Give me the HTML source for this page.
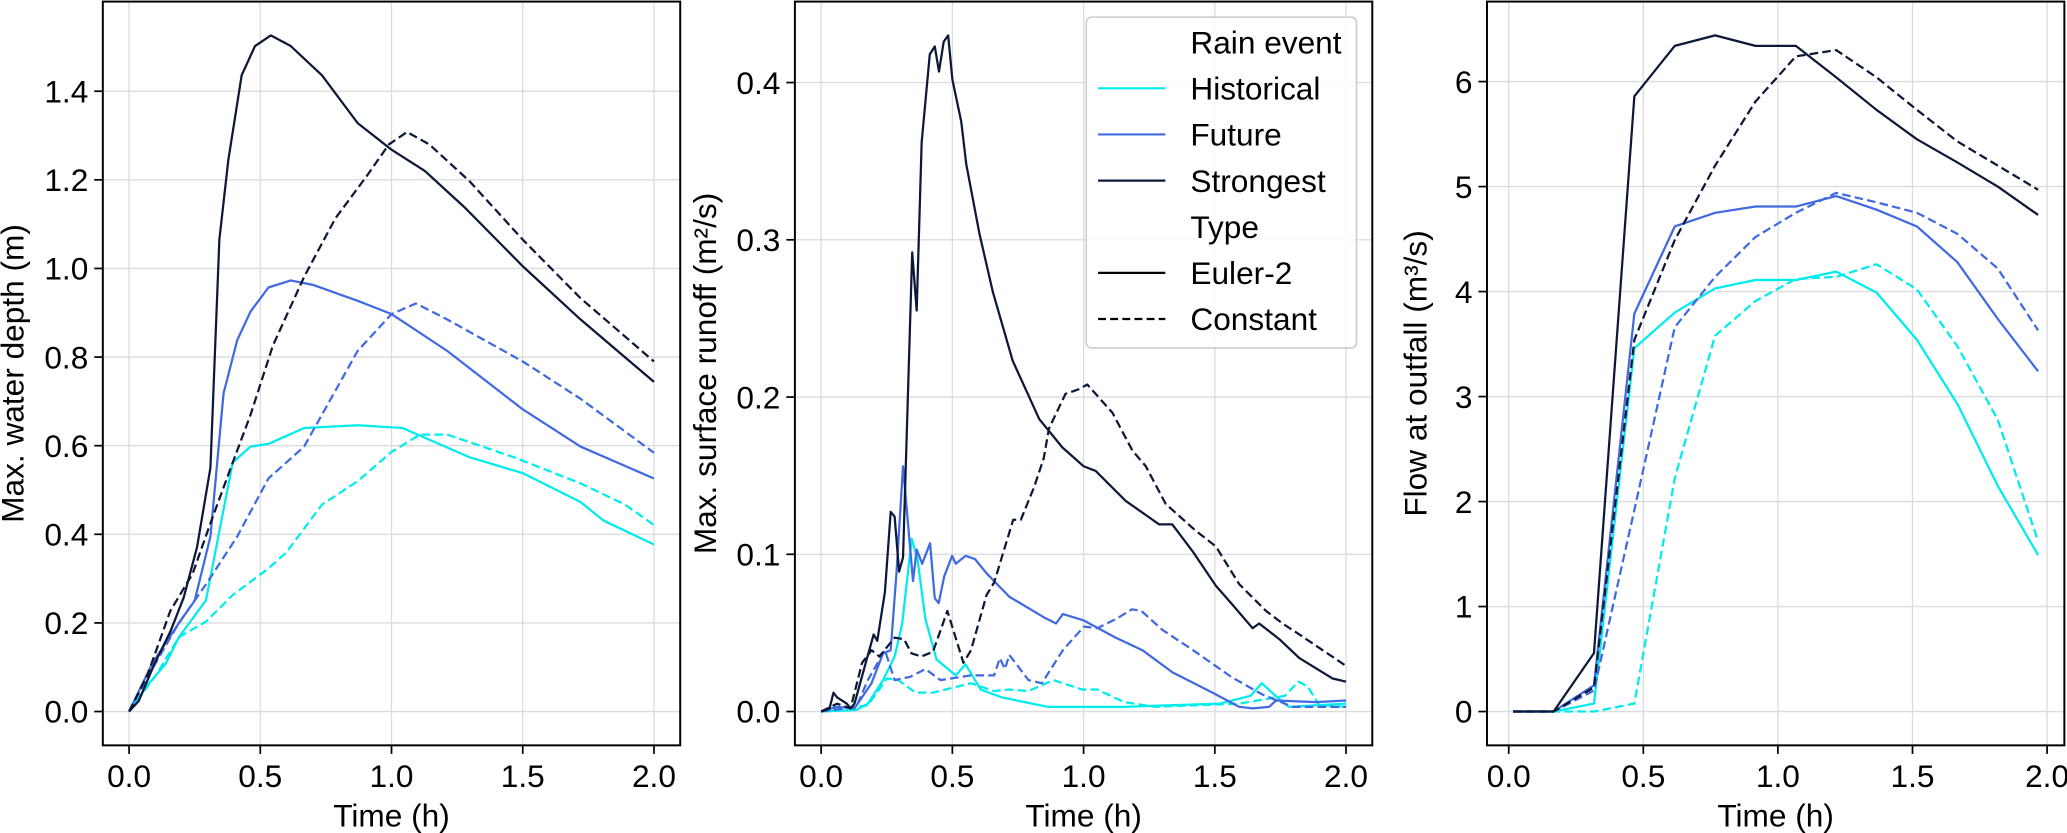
<!DOCTYPE html>
<html><head><meta charset="utf-8"><title>Rain event comparison</title>
<style>
html,body{margin:0;padding:0;background:#fff;}
svg{display:block;}
text{font-family:"Liberation Sans",Arial,sans-serif;fill:#000;}
</style></head>
<body>
<svg id="fig" xmlns="http://www.w3.org/2000/svg" width="2067" height="833" viewBox="0 0 1568 632" preserveAspectRatio="none"></svg>
<script>
// ---------- Panel 1: Max. water depth (m) ----------
const depthHistE_t = [0,0.071,0.14,0.19,0.293,0.344,0.395,0.463,0.531,0.667,0.871,1.042,1.297,1.5,1.72,1.808,2.0];
const depthHistE_v = [0,0.06,0.108,0.168,0.251,0.407,0.562,0.598,0.604,0.64,0.646,0.64,0.574,0.538,0.473,0.431,0.377];
const depthHistC_t = [0,0.105,0.19,0.293,0.395,0.531,0.599,0.735,0.871,1.0,1.108,1.212,1.466,1.72,1.89,2.0];
const depthHistC_v = [0,0.084,0.168,0.203,0.263,0.323,0.359,0.467,0.52,0.586,0.625,0.625,0.574,0.515,0.467,0.421];
const depthFutE_t = [0,0.088,0.19,0.25,0.31,0.36,0.412,0.463,0.531,0.616,0.7,0.871,1.0,1.212,1.5,1.72,2.0];
const depthFutE_v = [0,0.108,0.2,0.25,0.395,0.718,0.838,0.903,0.957,0.973,0.963,0.927,0.897,0.814,0.682,0.598,0.526];
const depthFutC_t = [0,0.088,0.19,0.293,0.412,0.531,0.667,0.735,0.871,1.0,1.093,1.212,1.5,1.72,2.0];
const depthFutC_v = [0,0.096,0.2,0.287,0.395,0.526,0.598,0.67,0.814,0.897,0.921,0.885,0.79,0.706,0.584];
const depthStrE_t = [0,0.037,0.097,0.157,0.208,0.259,0.31,0.344,0.378,0.429,0.48,0.54,0.616,0.735,0.871,1.0,1.127,1.28,1.5,1.72,2.0];
const depthStrE_v = [0,0.024,0.108,0.18,0.257,0.371,0.55,1.065,1.244,1.436,1.502,1.526,1.502,1.436,1.328,1.268,1.22,1.137,1.005,0.885,0.744];
const depthStrC_t = [0,0.071,0.157,0.242,0.31,0.395,0.463,0.548,0.667,0.786,0.906,0.99,1.059,1.144,1.297,1.5,1.72,2.0];
const depthStrC_v = [0,0.084,0.227,0.311,0.425,0.562,0.67,0.826,0.981,1.113,1.209,1.28,1.308,1.28,1.197,1.065,0.933,0.79];
const depthYTicks = [0,0.2,0.4,0.6,0.8,1.0,1.2,1.4];
const depthYLabels = ["0.0","0.2","0.4","0.6","0.8","1.0","1.2","1.4"];

// ---------- Panel 2: Max. surface runoff (m²/s) ----------
const runHistE_t = [0,0.134,0.178,0.236,0.28,0.309,0.345,0.367,0.397,0.44,0.513,0.55,0.608,0.688,0.863,1.155,1.329,1.519,1.636,1.679,1.738,1.781,2.0];
const runHistE_v = [0,0.001,0.005,0.02,0.035,0.056,0.11,0.097,0.059,0.033,0.023,0.03,0.014,0.009,0.003,0.003,0.004,0.005,0.01,0.018,0.009,0.003,0.005];
const runHistC_t = [0,0.178,0.251,0.294,0.36,0.426,0.571,0.659,0.717,0.79,0.885,0.994,1.052,1.155,1.271,1.592,1.767,1.818,1.854,1.898,2.0];
const runHistC_v = [0,0.004,0.021,0.02,0.012,0.012,0.018,0.013,0.014,0.013,0.02,0.014,0.014,0.006,0.003,0.005,0.01,0.019,0.016,0.004,0.003];
const runFutE_t = [0,0.061,0.127,0.192,0.236,0.265,0.287,0.312,0.35,0.364,0.385,0.415,0.433,0.448,0.469,0.499,0.513,0.55,0.586,0.63,0.717,0.848,0.895,0.921,1.0,1.122,1.224,1.338,1.491,1.593,1.644,1.707,1.733,1.885,2.0];
const runFutE_v = [0,0.003,0.002,0.018,0.037,0.039,0.088,0.156,0.083,0.103,0.094,0.107,0.072,0.069,0.086,0.099,0.094,0.099,0.097,0.088,0.073,0.06,0.056,0.062,0.058,0.047,0.039,0.025,0.012,0.003,0.002,0.003,0.007,0.006,0.007];
const runFutC_t = [0,0.134,0.178,0.243,0.28,0.338,0.397,0.455,0.571,0.659,0.681,0.7,0.717,0.79,0.841,0.921,1.001,1.052,1.125,1.184,1.22,1.3,1.417,1.563,1.679,1.796,2.0];
const runFutC_v = [0,0.003,0.02,0.039,0.02,0.022,0.027,0.02,0.023,0.023,0.034,0.027,0.036,0.02,0.018,0.039,0.054,0.053,0.059,0.065,0.064,0.052,0.039,0.022,0.011,0.003,0.003];
const runStrE_t = [0,0.032,0.047,0.061,0.098,0.112,0.127,0.17,0.2,0.214,0.243,0.265,0.28,0.297,0.312,0.347,0.364,0.383,0.414,0.433,0.449,0.467,0.484,0.5,0.534,0.553,0.603,0.654,0.73,0.831,0.919,1.0,1.046,1.16,1.237,1.288,1.338,1.415,1.504,1.567,1.644,1.669,1.746,1.822,1.949,2.0];
const runStrE_v = [0,0.002,0.012,0.009,0.005,0.002,0.005,0.031,0.049,0.045,0.076,0.127,0.124,0.089,0.098,0.292,0.255,0.362,0.418,0.423,0.407,0.426,0.43,0.402,0.375,0.348,0.304,0.267,0.223,0.186,0.168,0.156,0.153,0.134,0.125,0.119,0.119,0.102,0.08,0.068,0.053,0.056,0.046,0.034,0.021,0.019];
const runStrC_t = [0,0.061,0.112,0.156,0.192,0.222,0.28,0.316,0.344,0.382,0.426,0.481,0.542,0.571,0.63,0.659,0.732,0.761,0.812,0.848,0.868,0.931,0.982,1.014,1.11,1.186,1.237,1.313,1.427,1.504,1.593,1.695,1.758,1.822,2.0];
const runStrC_v = [0,0.005,0.002,0.031,0.039,0.035,0.047,0.046,0.037,0.035,0.038,0.064,0.031,0.039,0.074,0.082,0.122,0.122,0.143,0.161,0.18,0.202,0.205,0.208,0.19,0.166,0.156,0.132,0.115,0.105,0.081,0.064,0.056,0.049,0.029];
const runYTicks = [0,0.1,0.2,0.3,0.4];
const runYLabels = ["0.0","0.1","0.2","0.3","0.4"];

// ---------- Panel 3: Flow at outfall (m³/s) ----------
const flowTimes = [0.0167,0.1667,0.3167,0.4667,0.6167,0.7667,0.9167,1.0667,1.2167,1.3667,1.5167,1.6667,1.8167,1.9667];
const flowHistE = [0,0,0.076,3.46,3.8,4.03,4.11,4.11,4.19,3.99,3.54,2.93,2.15,1.49];
const flowHistC = [0,0,0,0.076,2.22,3.58,3.91,4.12,4.14,4.26,4.02,3.48,2.78,1.62];
const flowFutE = [0,0,0.25,3.79,4.62,4.75,4.81,4.81,4.91,4.78,4.62,4.28,3.74,3.24];
const flowFutC = [0,0,0.2,1.92,3.66,4.14,4.52,4.75,4.94,4.85,4.75,4.55,4.22,3.63];
const flowStrE = [0,0,0.556,5.86,6.34,6.44,6.34,6.34,6.04,5.73,5.45,5.23,5.0,4.73];
const flowStrC = [0,0,0.23,3.54,4.49,5.2,5.81,6.24,6.3,6.04,5.73,5.43,5.2,4.97];
const flowYTicks = [0,1,2,3,4,5,6];
const flowYLabels = ["0","1","2","3","4","5","6"];

const xTicks = [0,0.5,1.0,1.5,2.0];
const xTickLabels = ["0.0","0.5","1.0","1.5","2.0"];
const legendLabels = ["Rain event","Historical","Future","Strongest","Type","Euler-2","Constant"];

const COL = {hist:"#00ecec", fut:"#4169e1", str:"#0b1838"};
const FS = 24;
const NS = "http://www.w3.org/2000/svg";
const svg = document.getElementById("fig");
function mk(tag, attrs, parent){
  const e = document.createElementNS(NS, tag);
  for (const k in attrs) e.setAttribute(k, attrs[k]);
  (parent||svg).appendChild(e);
  return e;
}
const TOP = 1.2, BOT = 565.5, W = 438;

function drawPanel(key, left, series, yTicks, yLabels, ylab, ylabOffset){
  const g = mk("g", {});
  
  
  let tmin=Infinity,tmax=-Infinity,vmin=Infinity,vmax=-Infinity;
  series.forEach(s=>{s.t.forEach(v=>{tmin=Math.min(tmin,v);tmax=Math.max(tmax,v);});
                     s.v.forEach(v=>{vmin=Math.min(vmin,v);vmax=Math.max(vmax,v);});});
  const tm=(tmax-tmin)*0.05, vm=(vmax-vmin)*0.05;
  const x0=tmin-tm, x1=tmax+tm, y0=vmin-vm, y1=vmax+vm;
  const sx = t => left + (t-x0)/(x1-x0)*W;
  const sy = v => BOT - (v-y0)/(y1-y0)*(BOT-TOP);
  xTicks.forEach((t,i)=>{
    const l = mk("line",{x1:sx(t),x2:sx(t),y1:TOP,y2:BOT,stroke:"#dcdcdc","stroke-width":1},g);
    
    
  });
  yTicks.forEach((v,i)=>{
    const l = mk("line",{x1:left,x2:left+W,y1:sy(v),y2:sy(v),stroke:"#dcdcdc","stroke-width":1},g);
    
    
  });
  series.forEach(s=>{
    const d = s.t.map((t,i)=>(i?"L":"M")+sx(t).toFixed(2)+" "+sy(s.v[i]).toFixed(2)).join(" ");
    const p = mk("path",{d:d,fill:"none",stroke:s.c,"stroke-width":1.7,"stroke-linejoin":"round"},g);
    if (s.dash) p.setAttribute("stroke-dasharray","6.5 3.2");
    
    
  });
  const fr = mk("rect",{x:left,y:TOP,width:W,height:BOT-TOP,fill:"none",stroke:"#000","stroke-width":1.5},g);
  
  
  xTicks.forEach((t,i)=>{
    mk("line",{x1:sx(t),x2:sx(t),y1:BOT,y2:BOT+6.5,stroke:"#000","stroke-width":1.3},g);
    const tx = mk("text",{x:sx(t),y:597,"text-anchor":"middle","font-size":FS},g);
    tx.textContent = xTickLabels[i];
    
    
  });
  yTicks.forEach((v,i)=>{
    mk("line",{x1:left-6.5,x2:left,y1:sy(v),y2:sy(v),stroke:"#000","stroke-width":1.3},g);
    const tx = mk("text",{x:left-11,y:sy(v)+8.5,"text-anchor":"end","font-size":FS},g);
    tx.textContent = yLabels[i];
    
    
  });
  const xl = mk("text",{x:left+W/2,y:627,"text-anchor":"middle","font-size":FS},g);
  xl.textContent = "Time (h)";
  
  
  const yx = left-ylabOffset, yy=(TOP+BOT)/2;
  const yl = mk("text",{x:yx,y:yy,"text-anchor":"middle","font-size":FS,transform:`rotate(-90 ${yx} ${yy})`},g);
  yl.textContent = ylab;
  
  
}

drawPanel("water-depth", 78, [
  {name:"historical-euler",t:depthHistE_t,v:depthHistE_v,c:COL.hist},
  {name:"historical-constant",t:depthHistC_t,v:depthHistC_v,c:COL.hist,dash:1},
  {name:"future-euler",t:depthFutE_t,v:depthFutE_v,c:COL.fut},
  {name:"future-constant",t:depthFutC_t,v:depthFutC_v,c:COL.fut,dash:1},
  {name:"strongest-euler",t:depthStrE_t,v:depthStrE_v,c:COL.str},
  {name:"strongest-constant",t:depthStrC_t,v:depthStrC_v,c:COL.str,dash:1}
], depthYTicks, depthYLabels, "Max. water depth (m)", 60);

drawPanel("surface-runoff", 603, [
  {name:"historical-euler",t:runHistE_t,v:runHistE_v,c:COL.hist},
  {name:"historical-constant",t:runHistC_t,v:runHistC_v,c:COL.hist,dash:1},
  {name:"future-euler",t:runFutE_t,v:runFutE_v,c:COL.fut},
  {name:"future-constant",t:runFutC_t,v:runFutC_v,c:COL.fut,dash:1},
  {name:"strongest-euler",t:runStrE_t,v:runStrE_v,c:COL.str},
  {name:"strongest-constant",t:runStrC_t,v:runStrC_v,c:COL.str,dash:1}
], runYTicks, runYLabels, "Max. surface runoff (m²/s)", 60);

drawPanel("outfall-flow", 1128, [
  {name:"historical-euler",t:flowTimes,v:flowHistE,c:COL.hist},
  {name:"historical-constant",t:flowTimes,v:flowHistC,c:COL.hist,dash:1},
  {name:"future-euler",t:flowTimes,v:flowFutE,c:COL.fut},
  {name:"future-constant",t:flowTimes,v:flowFutC,c:COL.fut,dash:1},
  {name:"strongest-euler",t:flowTimes,v:flowStrE,c:COL.str},
  {name:"strongest-constant",t:flowTimes,v:flowStrC,c:COL.str,dash:1}
], flowYTicks, flowYLabels, "Flow at outfall (m³/s)", 46);

const lg = mk("g",{});


mk("rect",{x:824,y:13,width:205,height:251,rx:4,fill:"#fff","fill-opacity":0.85,stroke:"#cccccc","stroke-width":1.2},lg);
const legendColors = [null,COL.hist,COL.fut,COL.str,null,"#000","#000"];
legendLabels.forEach((lab,i)=>{
  const cy = 32 + i*35;
  if (legendColors[i]) {
    const ln = mk("line",{x1:833,x2:884,y1:cy,y2:cy,stroke:legendColors[i],"stroke-width":1.7},lg);
    if (i===6) ln.setAttribute("stroke-dasharray","6 3.2");
  }
  const t = mk("text",{x:903,y:cy+8.5,"font-size":FS},lg);
  t.textContent = lab;
  
  
});
</script>
</body></html>
